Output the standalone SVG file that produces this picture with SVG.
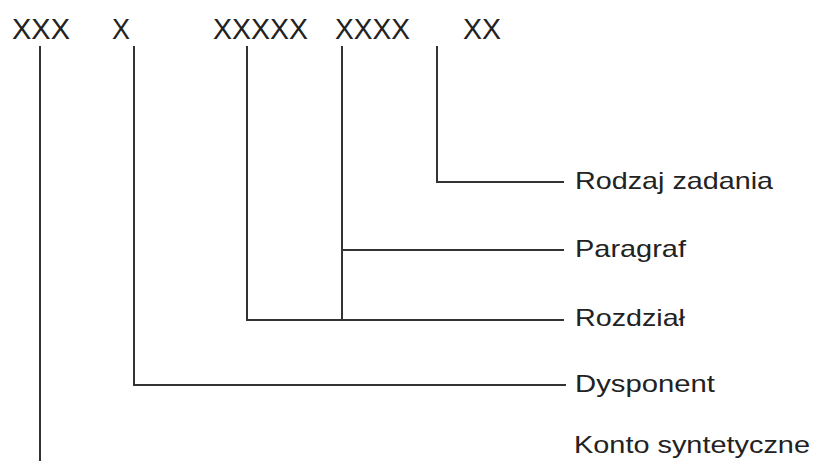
<svg xmlns="http://www.w3.org/2000/svg" width="814" height="461" viewBox="0 0 814 461">
<style>
.code{font-family:"Liberation Sans",Arial,sans-serif;font-size:29px;fill:#222}
.lbl{font-family:"Liberation Sans",Arial,sans-serif;font-size:24px;fill:#222}
.ln{stroke:#333;stroke-width:2;fill:none}
</style>
<rect width="814" height="461" fill="#fff"/>
<g id="codes">
<text class="code" x="12" y="39" textLength="58" lengthAdjust="spacingAndGlyphs">XXX</text>
<text class="code" x="112" y="39" textLength="18" lengthAdjust="spacingAndGlyphs">X</text>
<text class="code" x="213" y="39" textLength="95" lengthAdjust="spacingAndGlyphs">XXXXX</text>
<text class="code" x="335" y="39" textLength="75" lengthAdjust="spacingAndGlyphs">XXXX</text>
<text class="code" x="463" y="39" textLength="38" lengthAdjust="spacingAndGlyphs">XX</text>
</g>
<g id="connectors">
<polyline class="ln" points="437,46 437,182 564,182"/>
<polyline class="ln" points="342,46 342,320"/>
<line class="ln" x1="342" y1="250" x2="564" y2="250"/>
<polyline class="ln" points="247,46 247,320 564,320"/>
<polyline class="ln" points="134,46 134,385 566,385"/>
<line class="ln" x1="40" y1="46" x2="40" y2="461"/>
</g>
<g id="rodzaj"><text class="lbl" x="575" y="189" textLength="198" lengthAdjust="spacingAndGlyphs">Rodzaj zadania</text></g>
<g id="paragraf"><text class="lbl" x="575" y="257" textLength="111" lengthAdjust="spacingAndGlyphs">Paragraf</text></g>
<g id="rozdzial"><text class="lbl" x="575" y="326" textLength="110" lengthAdjust="spacingAndGlyphs">Rozdział</text></g>
<g id="dysponent"><text class="lbl" x="575" y="392" textLength="140" lengthAdjust="spacingAndGlyphs">Dysponent</text></g>
<g id="konto"><text class="lbl" x="574" y="453" textLength="236" lengthAdjust="spacingAndGlyphs">Konto syntetyczne</text></g>
</svg>
